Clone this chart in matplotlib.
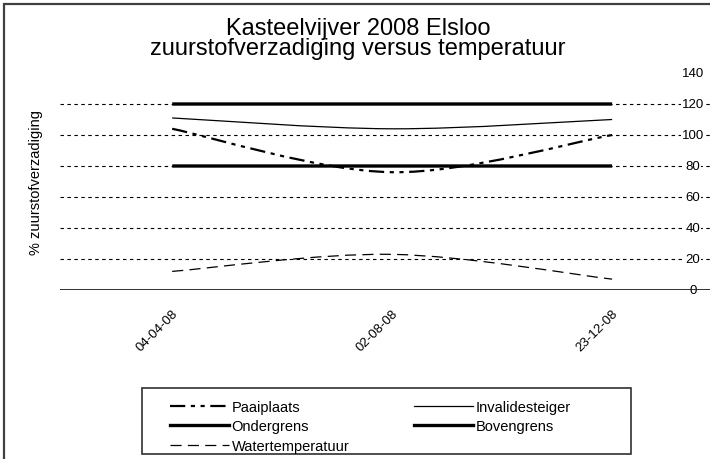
"""Kasteelvijver 2008 Elsloo - zuurstofverzadiging versus temperatuur."""
import matplotlib
matplotlib.use("Agg")
import matplotlib.pyplot as plt
from matplotlib.path import Path
from matplotlib.patches import PathPatch, Rectangle
from matplotlib.lines import Line2D

plt.rcParams['font.family'] = ['Liberation Sans', 'DejaVu Sans']
plt.rcParams['lines.scale_dashes'] = False

# data
dates = ["04-04-08", "02-08-08", "23-12-08"]
paaiplaats = [104, 76, 100]
invalidesteiger = [111, 104, 110]
ondergrens = [80, 80, 80]
bovengrens = [120, 120, 120]
watertemperatuur = [12, 23, 7]
y_ticks = [0, 20, 40, 60, 80, 100, 120, 140]


def smooth_path(xs, ys):
    """Excel style smoothed line: Catmull-Rom segments as cubic beziers."""
    pts = list(zip(xs, ys))
    verts = [pts[0]]
    codes = [Path.MOVETO]
    for i in range(len(pts) - 1):
        p0 = pts[i - 1] if i > 0 else pts[i]
        p1, p2 = pts[i], pts[i + 1]
        p3 = pts[i + 2] if i + 2 < len(pts) else pts[i + 1]
        c1 = (p1[0] + (p2[0] - p0[0]) / 6, p1[1] + (p2[1] - p0[1]) / 6)
        c2 = (p2[0] - (p3[0] - p1[0]) / 6, p2[1] - (p3[1] - p1[1]) / 6)
        verts += [c1, c2, p2]
        codes += [Path.CURVE4] * 3
    return Path(verts, codes)


W, H = 710, 460
fig = plt.figure(figsize=(W / 100, H / 100), dpi=100)

# chart area border (right and bottom edge fall outside the picture)
fig.add_artist(Rectangle((4 / W, -0.5), 2, 1.5 - 5 / H, transform=fig.transFigure,
                         fill=False, edgecolor='#404040', lw=1.6))

ax = fig.add_axes([60 / W, (H - 291) / H, 650 / W, 217 / H])
x = list(range(len(dates)))
ax.set_xlim(-0.51, 2.445)
ax.set_ylim(0, 140)

for s in ax.spines.values():
    s.set_visible(False)
ax.set_yticks(y_ticks[1:-1])
ax.tick_params(axis='y', left=False, labelleft=False)
ax.grid(axis='y', color='black', lw=0.8, linestyle=(0, (2.5, 2.5)))
ax.axhline(0, color='#202020', lw=1.3, zorder=4)

for v in y_ticks:
    ax.text(0.974, v, str(v), transform=ax.get_yaxis_transform(), ha='center',
            va='center', fontsize=9.5, zorder=3,
            bbox=dict(facecolor='white', edgecolor='none', pad=0.6) if 0 < v < 140 else None)

ax.set_xticks(x)
ax.set_xticklabels(dates, rotation=45, ha='right', rotation_mode='anchor', fontsize=9.5)
ax.tick_params(axis='x', bottom=False, pad=9)

ax.text(-0.037, 0.5, "% zuurstofverzadiging", transform=ax.transAxes, rotation=90,
        ha='center', va='center', fontsize=10.5)

styles = [
    ("Paaiplaats", paaiplaats, dict(lw=1.6, linestyle=(0, (11, 4, 3, 4, 3, 4)))),
    ("Invalidesteiger", invalidesteiger, dict(lw=0.9, linestyle='-')),
    ("Ondergrens", ondergrens, dict(lw=2.4, linestyle='-')),
    ("Bovengrens", bovengrens, dict(lw=2.4, linestyle='-')),
    ("Watertemperatuur", watertemperatuur, dict(lw=0.9, linestyle=(0, (8, 4.5)))),
]
handles = {}
for name, vals, st in styles:
    ax.add_patch(PathPatch(smooth_path(x, vals), fill=False, edgecolor='black',
                           capstyle='butt', zorder=5, **st))
    handles[name] = Line2D([], [], color='black', **st)

order = ["Paaiplaats", "Ondergrens", "Watertemperatuur", "Invalidesteiger", "Bovengrens"]
leg = fig.legend([handles[n] for n in order], order, ncol=2, loc='upper left',
                 bbox_to_anchor=(158 / W, 1 - 389 / H),
                 fontsize=10.5, handlelength=4.1, handletextpad=0.15, labelspacing=0.4,
                 columnspacing=4.4, borderpad=0.3, frameon=False)
# legend frame drawn separately so it can be wider than its entries
fig.add_artist(Rectangle((142 / W, 1 - 455 / H), (631 - 142) / W, 66 / H,
                         transform=fig.transFigure, fill=False,
                         edgecolor='#303030', lw=1.2))

fig.text(358 / W, 1 - 35 / H, "Kasteelvijver 2008 Elsloo", ha='center', va='baseline',
         fontsize=17)
fig.text(358 / W, 1 - 55 / H, "zuurstofverzadiging versus temperatuur", ha='center',
         va='baseline', fontsize=17)

fig.savefig("out.png", dpi=100)
